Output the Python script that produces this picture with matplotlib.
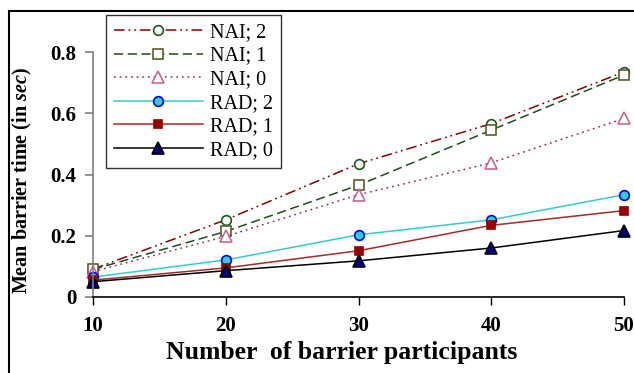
import matplotlib
matplotlib.use("Agg")
import matplotlib.pyplot as plt
from matplotlib.patches import Rectangle

plt.rcParams['font.family'] = ['Liberation Serif', 'DejaVu Serif']
plt.rcParams['mathtext.fontset'] = 'custom'
plt.rcParams['mathtext.it'] = 'Liberation Serif:italic:bold'
plt.rcParams['mathtext.rm'] = 'Liberation Serif:bold'

participants = [10, 20, 30, 40, 50]
series_labels = ["NAI; 2", "NAI; 1", "NAI; 0", "RAD; 2", "RAD; 1", "RAD; 0"]
nai_2 = [0.091, 0.252, 0.435, 0.566, 0.735]
nai_1 = [0.090, 0.214, 0.365, 0.545, 0.725]
nai_0 = [0.083, 0.198, 0.334, 0.438, 0.583]
rad_2 = [0.065, 0.121, 0.203, 0.252, 0.334]
rad_1 = [0.055, 0.095, 0.151, 0.234, 0.282]
rad_0 = [0.050, 0.086, 0.118, 0.160, 0.217]
y_ticks = [0, 0.2, 0.4, 0.6, 0.8]
y_tick_labels = ["0", "0.2", "0.4", "0.6", "0.8"]

styles = [
    dict(color='#8B0000', linestyle=(0, (7, 2.5, 1.2, 2.5, 1.2, 2.5)), marker='o',
         mfc='white', mec='#1E5A1E', ms=7),
    dict(color='#1E4D1E', linestyle=(0, (6, 3)), marker='s',
         mfc='white', mec='#5C5C2E', ms=7),
    dict(color='#993366', linestyle=(0, (1.2, 2.5)), marker='^',
         mfc='white', mec='#CC6699', ms=8),
    dict(color='#33CCCC', linestyle='-', marker='o',
         mfc='#33CCCC', mec='#0000FF', ms=7),
    dict(color='#A52A2A', linestyle='-', marker='s',
         mfc='#990000', mec='#990000', ms=5.5),
    dict(color='#000000', linestyle='-', marker='^',
         mfc='#000080', mec='#000000', ms=8),
]
data = [nai_2, nai_1, nai_0, rad_2, rad_1, rad_0]

W, H = 634, 373
fig = plt.figure(figsize=(W / 100, H / 100), dpi=100)
ax = fig.add_axes([93 / W, 1 - 297 / H, (624 - 93) / W, (297 - 52) / H])

for vals, lab, st in zip(data, series_labels, styles):
    ax.plot(participants, vals, label=lab, lw=1.1, mew=1.2, clip_on=False, **st)

ax.set_xlim(10, 50)
ax.set_ylim(0, 0.8)
ax.set_xticks(participants)
ax.set_xticklabels([str(p) for p in participants])
ax.set_yticks(y_ticks)
ax.set_yticklabels(y_tick_labels)

for s in ['top', 'right']:
    ax.spines[s].set_visible(False)
ax.spines['left'].set_color('#808080')
ax.spines['left'].set_linewidth(1.2)
ax.spines['bottom'].set_color('black')
ax.spines['bottom'].set_linewidth(1.2)

ax.tick_params(axis='y', direction='out', length=6, width=1.2, color='#808080', pad=6,
               labelsize=15)
ax.tick_params(axis='x', direction='out', length=6, width=1.0, color='black', pad=8,
               labelsize=15)
for lbl in ax.get_xticklabels() + ax.get_yticklabels():
    lbl.set_fontweight('bold')

fig.text(342 / W, 1 - 353 / H, "Number  of barrier participants", ha='center', va='center',
         fontsize=18.5, fontweight='bold')
fig.text(22 / W, 1 - 181 / H, r"Mean barrier time (in $\mathit{sec}$)", ha='center',
         va='center', rotation=90, fontsize=14.5, fontweight='bold')

leg = ax.legend(loc='upper left', bbox_to_anchor=(106 / W, 1 - 15 / H),
                bbox_transform=fig.transFigure, borderaxespad=0, frameon=True,
                fancybox=False, edgecolor='black', fontsize=14.5, handlelength=4.4,
                handletextpad=0.35, labelspacing=0.22, borderpad=0.4, numpoints=1)
leg.get_frame().set_linewidth(1.0)

fig.patches.append(Rectangle((9 / W, -0.1), 1.2, 1 - 11 / H + 0.1, transform=fig.transFigure,
                             fill=False, edgecolor='black', linewidth=1.5, figure=fig))

fig.savefig("out.png", dpi=100)
